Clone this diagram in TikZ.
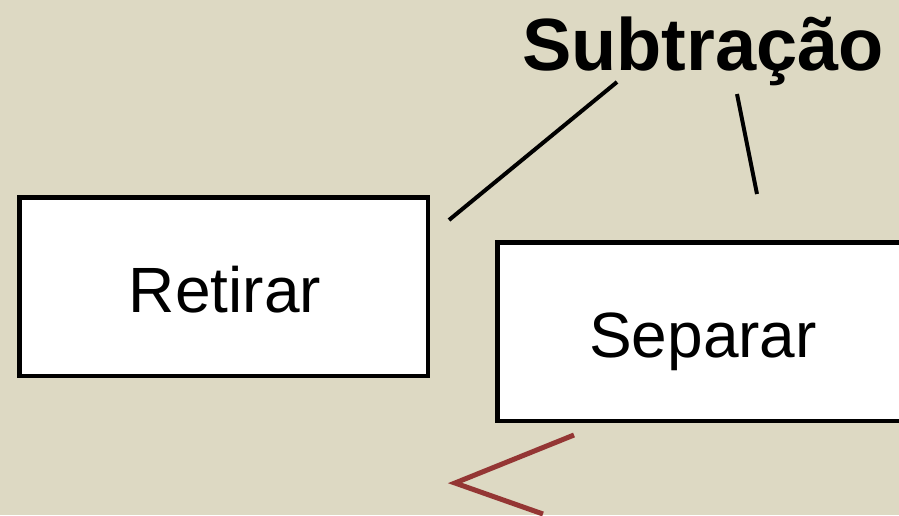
\documentclass[tikz,border=0pt]{standalone}
\usepackage{fontspec}
\setmainfont{Liberation Sans}
\definecolor{bg}{HTML}{DDD9C3}
\definecolor{redline}{HTML}{943634}
\begin{document}
\begin{tikzpicture}[x=1pt,y=-1pt,
  box/.style={draw=black,line width=4.5pt,fill=white},
  lbl/.style={font=\fontsize{64}{70}\selectfont,anchor=base},
  conn/.style={draw=black,line width=4pt},
  rconn/.style={draw=redline,line width=5pt}]
\clip (0,0) rectangle (899,515);
\fill[bg] (0,0) rectangle (899,515);
\useasboundingbox (0,0) rectangle (899,515);
\draw[box] (19.5,197.5) rectangle (428,376);
\node[lbl] (retirar) at (225,312) {Retirar};
\draw[box] (497.5,242.5) rectangle (930,421);
\node[lbl] (separar) at (703,357) {Separar};
\node[font=\fontsize{74}{80}\selectfont\bfseries,anchor=base] (title) at (703,70) {Subtração};
\coordinate (a1) at (617,82);
\coordinate (a2) at (449,220);
\coordinate (b1) at (737,94);
\coordinate (b2) at (757,194);
\draw[conn] (a1) -- (a2);
\draw[conn] (b1) -- (b2);
\coordinate (r1) at (574,435);
\coordinate (r2) at (455,483);
\coordinate (r3) at (543,514);
\draw[rconn] (r1) -- (r2) -- (r3);
\end{tikzpicture}
\end{document}
